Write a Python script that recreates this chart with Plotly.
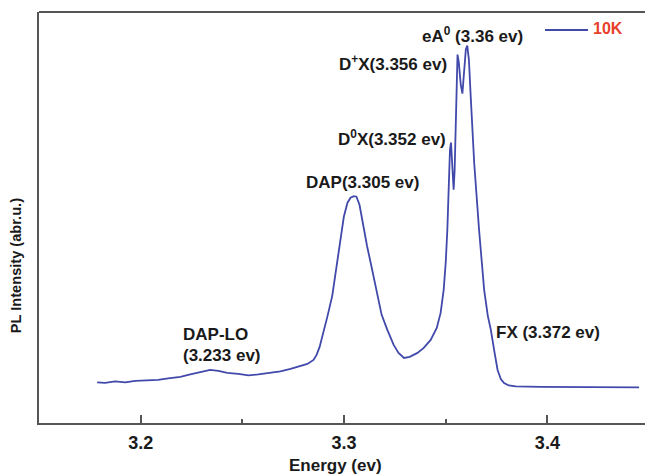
import plotly.graph_objects as go

# Energy (eV) and PL intensity (arbitrary units)
energy = [3.1786, 3.1825, 3.1874, 3.1924, 3.1973, 3.2032, 3.2086, 3.2135, 3.2195, 3.2244,
          3.2293, 3.2342, 3.2382, 3.2426, 3.2480, 3.2530, 3.2579, 3.2628, 3.2687, 3.2737,
          3.2786, 3.2820, 3.2850, 3.2865, 3.2880, 3.2899, 3.2919, 3.2942, 3.2966, 3.2983,
          3.2999, 3.3017, 3.3032, 3.3048, 3.3061, 3.3076, 3.3098, 3.3113, 3.3131, 3.3164,
          3.3185, 3.3213, 3.3244, 3.3268, 3.3295, 3.3323, 3.3361, 3.3392, 3.3426, 3.3456,
          3.3475, 3.3490, 3.3500, 3.3508, 3.3516, 3.3521, 3.3526, 3.3532, 3.3539, 3.3544,
          3.3549, 3.3554, 3.3558, 3.3564, 3.3574, 3.3582, 3.3591, 3.3599, 3.3606, 3.3614,
          3.3623, 3.3640, 3.3664, 3.3689, 3.3707, 3.3722, 3.3738, 3.3755, 3.3771, 3.3787,
          3.3810, 3.3845, 3.3968, 3.4116, 3.4264, 3.4451]
intensity = [40.5, 40, 41.5, 40.5, 42, 42.5, 43, 44.5, 46, 48.5,
             51, 53, 52, 50, 49, 47.5, 48.5, 50, 51.5, 54,
             56.5, 59, 63, 68, 76, 90, 107, 127, 160, 183,
             206, 220, 225, 226.5, 226, 218, 193, 177, 160, 126,
             108, 93, 78, 70, 65, 66, 70, 75, 83, 95,
             110, 133, 160, 193, 246, 273, 280, 263, 233, 253,
             293, 348, 368, 361, 338, 329, 353, 373, 377, 363,
             326, 260, 193, 133, 107, 93, 73, 53, 44, 40,
             37.5, 36.5, 36, 36, 35.5, 35.5]

x_tickvals = [3.2, 3.3, 3.4]
x_ticktext = ["3.2", "3.3", "3.4"]
x_minor_tickvals = [3.25, 3.35]

peak_labels = ["eA<sup>0</sup> (3.36 ev)", "D<sup>+</sup>X(3.356 ev)", "D<sup>0</sup>X(3.352 ev)",
               "DAP(3.305 ev)"]
peak_label_x = [3.3633, 3.3239, 3.3234, 3.3091]
peak_label_y = [388, 360, 285, 240]

side_labels = ["DAP-LO", "(3.233 ev)", "FX (3.372 ev)"]
side_label_x = [3.2200, 3.2200, 3.3735]
side_label_y = [88, 67.5, 90]

series_name = "10K"

FONT = "Liberation Sans, Arial, sans-serif"
LINE_BLUE = "#4149aa"
AXIS = "#555555"
TEXT = "#1a1a1a"

fig = go.Figure()
fig.add_trace(go.Scatter(x=energy, y=intensity, mode="lines", name=series_name,
                         line=dict(color=LINE_BLUE, width=1.8), showlegend=False))

annotations = []
for t, x, y in zip(peak_labels, peak_label_x, peak_label_y):
    annotations.append(dict(x=x, y=y, xref="x", yref="y", text="<b>" + t + "</b>",
                            showarrow=False, xanchor="center", yanchor="middle",
                            font=dict(family=FONT, size=17, color=TEXT)))
for t, x, y in zip(side_labels, side_label_x, side_label_y):
    annotations.append(dict(x=x, y=y, xref="x", yref="y", text="<b>" + t + "</b>",
                            showarrow=False, xanchor="left", yanchor="middle",
                            font=dict(family=FONT, size=17, color=TEXT)))
# axis titles
annotations.append(dict(x=0.49, y=-0.1035, xref="paper", yref="paper",
                        text="<b>Energy (ev)</b>", showarrow=False,
                        xanchor="center", yanchor="middle",
                        font=dict(family=FONT, size=17, color=TEXT)))
annotations.append(dict(x=-0.038, y=0.384, xref="paper", yref="paper",
                        text="<b>PL Intensity (abr.u.)</b>", showarrow=False, textangle=-90,
                        xanchor="center", yanchor="middle",
                        font=dict(family=FONT, size=14.6, color=TEXT)))
# legend entry
annotations.append(dict(x=0.911, y=0.961, xref="paper", yref="paper",
                        text="<b>" + series_name + "</b>", showarrow=False,
                        xanchor="left", yanchor="middle",
                        font=dict(family=FONT, size=16, color="#e8402a")))

fig.update_layout(
    width=645, height=475,
    margin=dict(l=39, r=0, t=12, b=52),
    paper_bgcolor="white", plot_bgcolor="white",
    showlegend=False,
    annotations=annotations,
    shapes=[dict(type="line", xref="paper", yref="paper", x0=0, x1=1, y0=1, y1=1,
                 line=dict(color=AXIS, width=2)),
            dict(type="line", xref="paper", yref="paper", x0=0.835, x1=0.906,
                 y0=0.956, y1=0.956, line=dict(color=LINE_BLUE, width=2))],
)
fig.update_xaxes(range=[3.15, 3.448], tickvals=x_tickvals, ticktext=x_ticktext,
                 ticks="inside", ticklen=8, tickwidth=1.5, tickcolor=AXIS,
                 minor=dict(tickvals=x_minor_tickvals, ticks="inside", ticklen=4,
                            tickwidth=1.5, tickcolor=AXIS),
                 showline=True, linecolor=AXIS, linewidth=2, showgrid=False,
                 zeroline=False, ticklabelstandoff=2,
                 tickfont=dict(family=FONT, size=18, color=TEXT, weight="bold"))
fig.update_yaxes(range=[0, 410.5], showticklabels=False, ticks="",
                 showline=True, linecolor=AXIS, linewidth=2, showgrid=False,
                 zeroline=False)

fig.write_html("out.html")
